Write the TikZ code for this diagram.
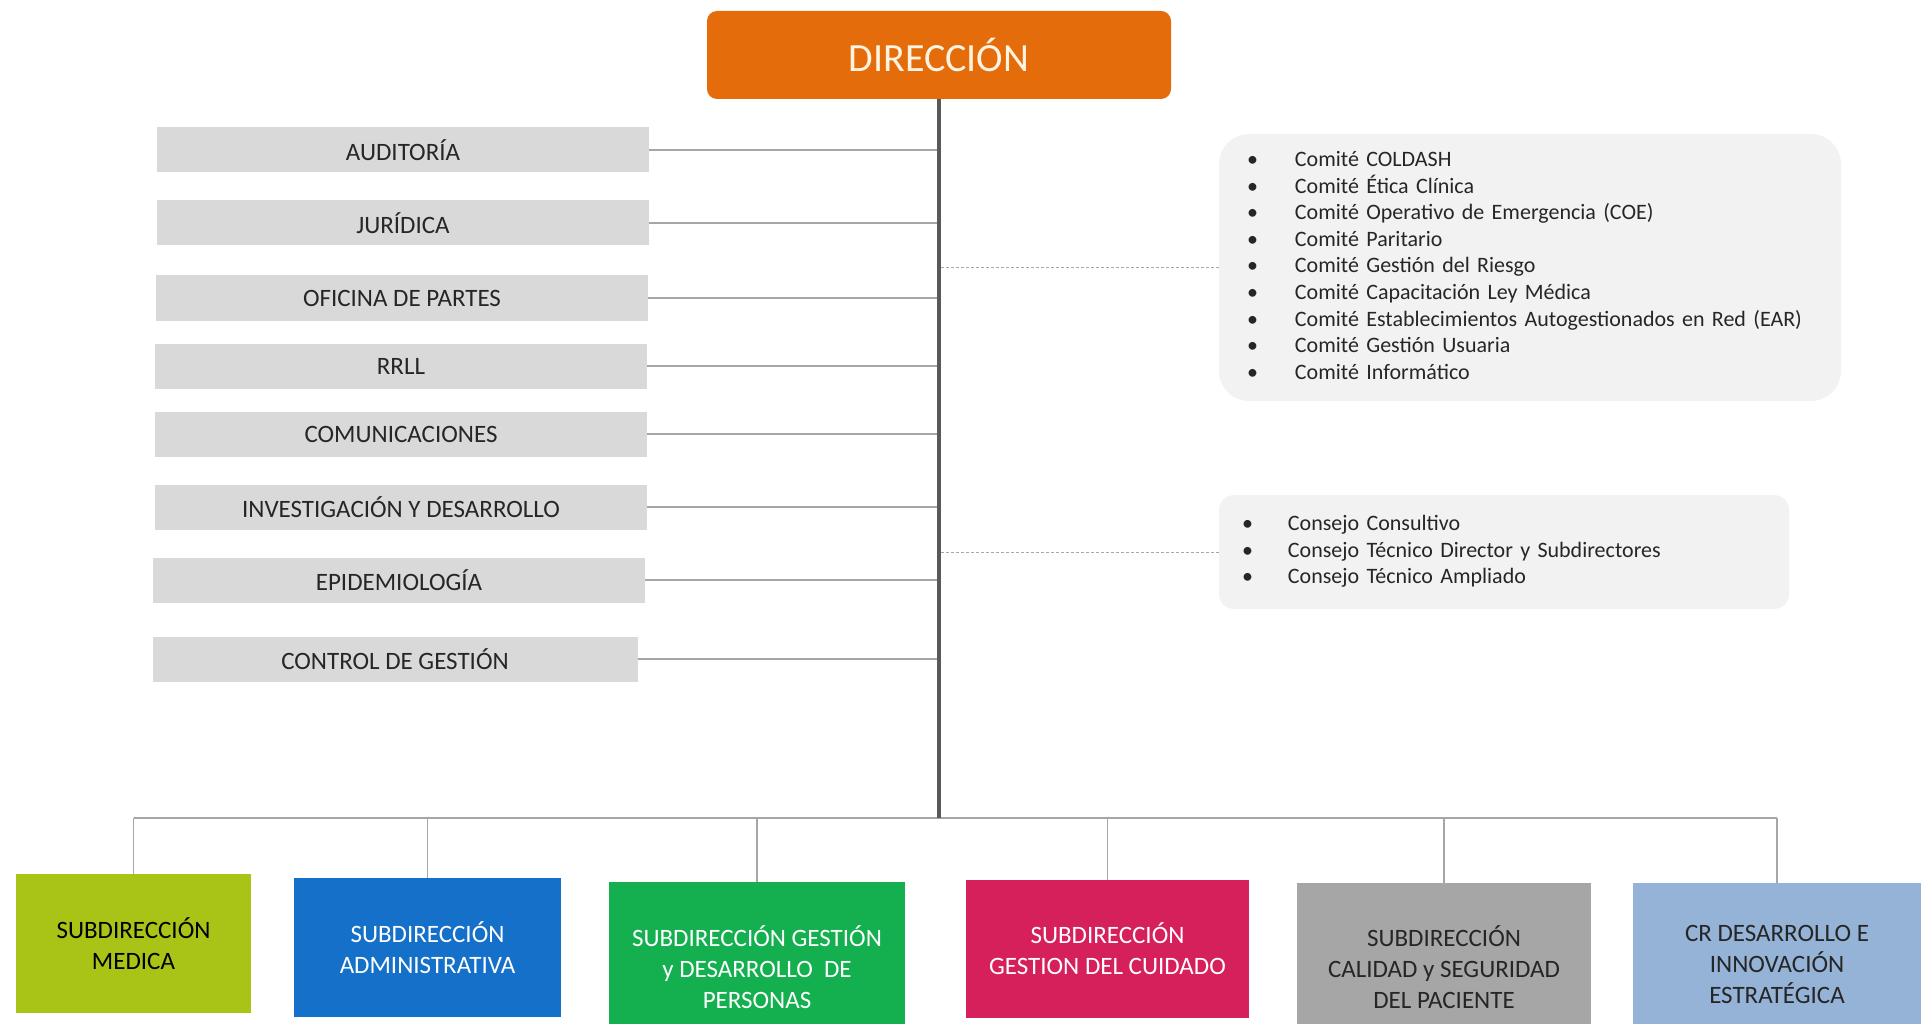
\documentclass[tikz,border=0pt]{standalone}
\usepackage{fontspec}
\setmainfont{Carlito}
\usetikzlibrary{positioning}
\definecolor{dirorange}{RGB}{228,108,10}
\definecolor{dirtext}{RGB}{255,243,225}
\definecolor{boxgray}{RGB}{217,217,217}
\definecolor{listgray}{RGB}{242,242,242}
\definecolor{linegray}{RGB}{166,166,166}
\definecolor{trunkgray}{RGB}{89,89,89}
\definecolor{medgreen}{RGB}{169,196,22}
\definecolor{admblue}{RGB}{20,112,200}
\definecolor{pergreen}{RGB}{20,176,80}
\definecolor{cuipink}{RGB}{214,32,92}
\definecolor{calgray}{RGB}{166,166,166}
\definecolor{crblue}{RGB}{149,179,215}
\definecolor{txtdark}{RGB}{38,38,38}

\tikzset{
  sidebox/.style={fill=boxgray, minimum width=492pt, minimum height=45pt,
    text=txtdark, font=\fontsize{25}{30}\selectfont},
  subbox/.style={minimum height=139pt, align=center,
    font=\fontsize{25}{31}\selectfont},
  listbox/.style={fill=listgray, align=left, text=txtdark,
    font=\fontsize{22}{26.6}\selectfont},
  link/.style={draw=linegray, line width=1.5pt},
  dashlink/.style={draw=linegray, line width=1pt, dash pattern=on 3pt off 2pt}
}

\begin{document}
\begin{tikzpicture}[x=1pt, y=-1pt]
    \useasboundingbox (0,0) rectangle (1921,1024);
    \node[fill=dirorange, rounded corners=10pt, minimum width=464pt, minimum height=88pt,
      text=dirtext, font=\fontsize{40}{48}\selectfont] (dir) at (939,55) {DIRECCIÓN};
    \coordinate (bus) at (939,818);

    \node[sidebox] (aud) at (403,150) {AUDITORÍA};
    \node[sidebox] (jur) at (403,223) {JURÍDICA};
    \node[sidebox] (ofi) at (402,298) {OFICINA DE PARTES};
    \node[sidebox] (rrll) at (401,366) {RRLL};
    \node[sidebox] (com) at (401,434) {COMUNICACIONES};
    \node[sidebox] (inv) at (401,507) {INVESTIGACIÓN Y DESARROLLO};
    \node[sidebox] (epi) at (399,580) {EPIDEMIOLOGÍA};
    \node[sidebox, minimum width=485pt] (ctl) at (395,659) {CONTROL DE GESTIÓN};

    \node[listbox, rounded corners=30pt, inner xsep=28pt, text width=566pt, minimum height=267pt]
      (comites) at (1530,267.5) {\begin{tabular}{@{}p{48pt}@{}l@{}}
      \textbullet & Comité COLDASH\\
      \textbullet & Comité Ética Clínica\\
      \textbullet & Comité Operativo de Emergencia (COE)\\
      \textbullet & Comité Paritario\\
      \textbullet & Comité Gestión del Riesgo\\
      \textbullet & Comité Capacitación Ley Médica\\
      \textbullet & Comité Establecimientos Autogestionados en Red (EAR)\\
      \textbullet & Comité Gestión Usuaria\\
      \textbullet & Comité Informático
      \end{tabular}};
    \node[listbox, rounded corners=15pt, inner xsep=23pt, text width=524pt, minimum height=114pt]
      (consejos) at (1504,552) {\begin{tabular}{@{}p{46pt}@{}l@{}}
      \textbullet & Consejo Consultivo\\
      \textbullet & Consejo Técnico Director y Subdirectores\\
      \textbullet & Consejo Técnico Ampliado
      \end{tabular}};

    \node[subbox, fill=medgreen, text=black, minimum width=235pt] (smed) at (133.5,943.5) {SUBDIRECCIÓN\\MEDICA};
    \node[subbox, fill=admblue, text=white, minimum width=267pt] (sadm) at (427.5,947.5) {SUBDIRECCIÓN\\ADMINISTRATIVA};
    \node[subbox, fill=pergreen, text=white, minimum width=296pt, minimum height=170pt] (sper) at (757,967) {SUBDIRECCIÓN GESTIÓN\\y DESARROLLO\ \ DE\\PERSONAS};
    \node[subbox, fill=cuipink, text=white, minimum width=283pt, minimum height=138pt] (scui) at (1107.5,949) {SUBDIRECCIÓN\\GESTION DEL CUIDADO};
    \node[subbox, fill=calgray, text=txtdark, minimum width=294pt, minimum height=168pt] (scal) at (1444,967) {SUBDIRECCIÓN\\CALIDAD y SEGURIDAD\\DEL PACIENTE};
    \node[subbox, fill=crblue, text=txtdark, minimum width=288pt, minimum height=162pt] (scr) at (1777,964) {CR DESARROLLO E\\INNOVACIÓN\\ESTRATÉGICA};

    \draw[link] (aud.east) -- (aud.east -| dir.south);
    \draw[link] (jur.east) -- (jur.east -| dir.south);
    \draw[link] (ofi.east) -- (ofi.east -| dir.south);
    \draw[link] (rrll.east) -- (rrll.east -| dir.south);
    \draw[link] (com.east) -- (com.east -| dir.south);
    \draw[link] (inv.east) -- (inv.east -| dir.south);
    \draw[link] (epi.east) -- (epi.east -| dir.south);
    \draw[link] (ctl.east) -- (ctl.east -| dir.south);
    \draw[dashlink] (comites.west) -- (comites.west -| dir.south);
    \draw[dashlink] (consejos.west) -- (consejos.west -| dir.south);

    \draw[link, line width=2pt] (smed.north |- bus) -- (scr.north |- bus);
    \draw[link] (smed.north) -- (smed.north |- bus);
    \draw[link] (sadm.north) -- (sadm.north |- bus);
    \draw[link] (sper.north) -- (sper.north |- bus);
    \draw[link] (scui.north) -- (scui.north |- bus);
    \draw[link] (scal.north) -- (scal.north |- bus);
    \draw[link] (scr.north) -- (scr.north |- bus);
    \draw[trunkgray, line width=3.5pt] (dir.south) -- (bus);
  \end{tikzpicture}
\end{document}
